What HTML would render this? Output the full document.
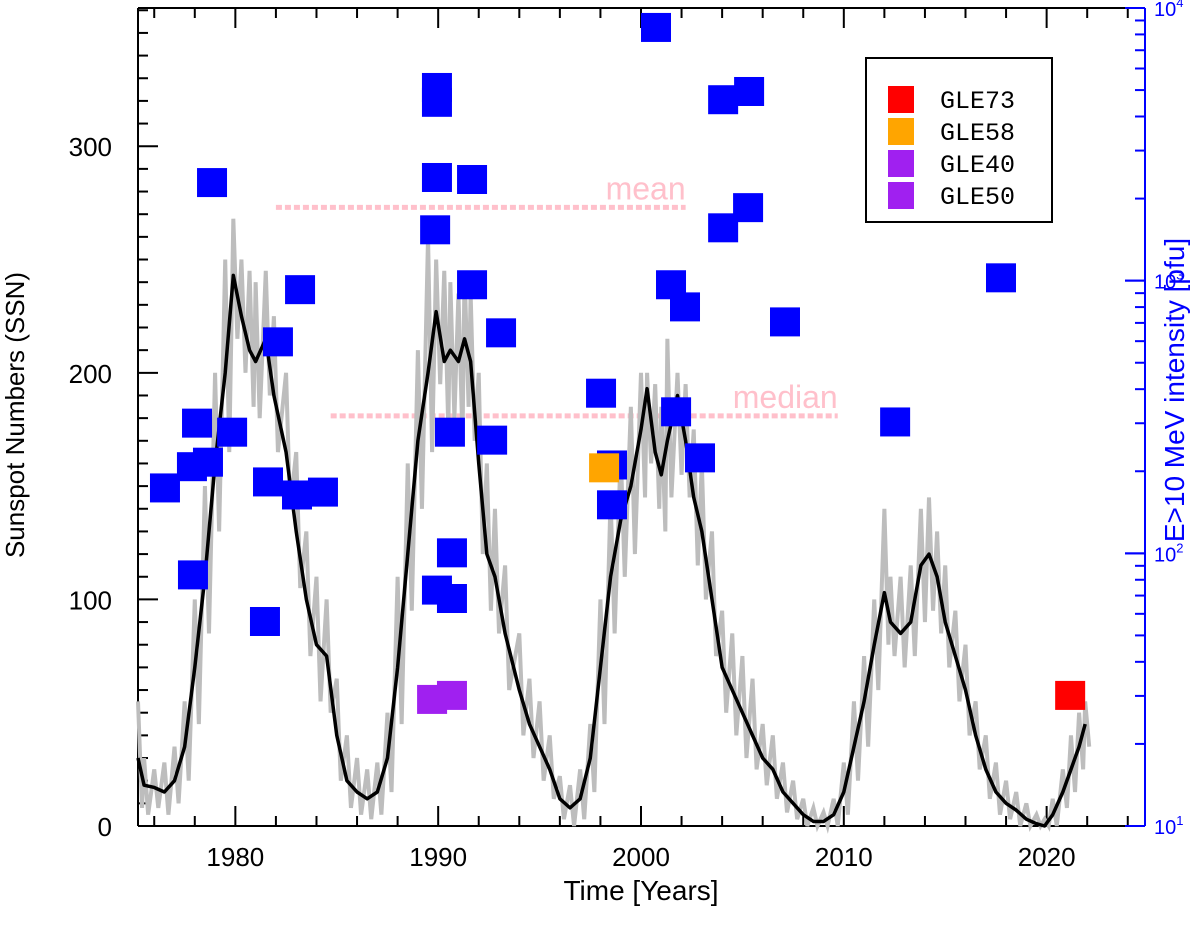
<!DOCTYPE html>
<html><head><meta charset="utf-8"><style>
html,body{margin:0;padding:0;background:#fff;}
svg{display:block;font-family:"Liberation Sans",sans-serif;}
</style></head><body>
<svg id="chart" width="1200" height="936" viewBox="0 0 1200 936">
<g id="axes"></g>
<g id="series"></g>
<g id="marks"></g>
<g id="legend">
  <rect x="866" y="58" width="186" height="164" fill="#fff" stroke="#000" stroke-width="2"/>
</g>
<text x="24" y="415" transform="rotate(-90 24 415)" text-anchor="middle" font-size="26" fill="#000">Sunspot Numbers (SSN)</text>
<text x="1184" y="390" transform="rotate(-90 1184 390)" text-anchor="middle" font-size="28" fill="#0000ff">E&gt;10 MeV intensity [pfu]</text>
<text x="641" y="900" text-anchor="middle" font-size="28" fill="#000">Time [Years]</text>
</svg>
<script>
// ---- data ----
const ssnYears = [1975.2,1975.5,1976,1976.5,1977,1977.5,1978,1978.5,1979,1979.5,1979.9,1980.3,1980.7,1981,1981.5,1981.9,1982.5,1983,1983.5,1984,1984.5,1985,1985.5,1986,1986.5,1987,1987.5,1988,1988.5,1989,1989.5,1989.9,1990.3,1990.6,1991,1991.3,1991.6,1992,1992.4,1992.8,1993.3,1994,1994.5,1995,1995.5,1996,1996.5,1997,1997.5,1998,1998.5,1999,1999.5,2000,2000.3,2000.7,2001,2001.3,2001.8,2002.2,2002.6,2003,2003.5,2004,2004.5,2005,2005.5,2006,2006.5,2007,2007.5,2008,2008.5,2009,2009.5,2010,2010.5,2011,2011.5,2012,2012.3,2012.8,2013.3,2013.8,2014.2,2014.6,2015,2015.5,2016,2016.5,2017,2017.5,2018,2018.5,2019,2019.5,2019.9,2020.3,2020.8,2021.2,2021.6,2021.9];
const ssnSmooth = [30,18,17,15,20,35,70,110,160,200,243,225,210,205,215,190,165,130,100,80,75,40,20,15,12,15,30,70,120,170,200,227,205,210,205,215,205,160,120,110,85,60,45,35,25,12,8,12,30,70,110,135,150,175,193,165,155,170,190,170,145,130,100,70,60,50,40,30,25,15,10,5,2,2,5,15,35,55,80,103,90,85,90,115,120,110,90,75,60,40,25,15,10,7,3,1,0,5,15,25,35,45];
const ssnMonthlyHi = [55,30,25,28,35,55,100,150,200,250,268,250,245,240,245,225,200,165,130,110,100,65,40,30,25,28,50,110,160,210,260,250,245,240,235,245,235,200,160,140,115,85,65,55,40,22,18,25,45,100,145,165,185,200,200,195,185,215,200,195,175,160,130,95,85,75,65,45,40,28,20,12,8,6,12,28,55,75,100,140,110,110,115,140,145,130,115,95,80,55,40,28,20,15,10,5,3,12,25,40,50,55];
const ssnMonthlyLo = [8,5,8,5,10,20,45,85,130,165,215,200,185,180,190,165,140,105,75,55,50,20,8,5,3,5,15,45,95,140,165,195,175,180,170,185,170,120,95,85,60,40,30,20,12,3,0,3,15,45,85,110,120,145,160,140,130,145,155,145,115,100,75,50,40,30,25,18,12,6,3,0,0,0,0,5,20,35,60,80,75,70,75,90,95,85,70,55,40,25,12,5,3,0,0,0,0,0,8,15,25,35];
const gleYears = [1976.53,1977.91,1978.11,1977.86,1978.65,1978.85,1979.84,1981.46,1981.61,1982.1,1983.04,1983.19,1984.32,1989.85,1989.94,1989.94,1989.94,1989.94,1990.68,1990.68,1990.58,1991.67,1991.67,1993.1,1992.66,1998.03,1998.57,1998.57,2000.74,2001.48,2002.17,2001.73,2002.91,2004.05,2005.33,2004.05,2005.28,2007.1,2012.53,2017.75];
const gleFlux = [173,83,299,207,215,2280,277,56,182,594,163,923,167,1530,2380,4490,5090,73,68,100,277,2340,962,641,259,385,210,150,8450,962,798,329,223,4590,4920,1556,1845,703,302,1020];
const specialNames = ["GLE58","GLE40","GLE50","GLE73"];
const specialYears = [1998.18,1989.7,1990.68,2021.16];
const specialFlux = [205,29,30,30];
const specialColors = ["#ffa500","#a020f0","#a020f0","#ff0000"];
const legendNames = ["GLE73","GLE58","GLE40","GLE50"];
const legendColors = ["#ff0000","#ffa500","#a020f0","#a020f0"];
const xTicks = [1980,1990,2000,2010,2020];
const yTicks = [0,100,200,300];
const logTicks = [1,2,3,4];
const meanValue = 273, meanRange=[1982,2002.2];
const medianValue = 181, medianRange=[1984.7,2009.7];

// ---- scales ----
const X0=138,X1=1145,Y0=826,Y1=8;
const xMin=1975.2,xMax=2024.85,yMax=361;
const x = v => X0+(v-xMin)/(xMax-xMin)*(X1-X0);
const y = v => Y0-v/yMax*(Y0-Y1);
const yl = f => Y0-(Math.log10(f)-1)/3*(Y0-Y1);
const NS="http://www.w3.org/2000/svg";
function mk(tag,attrs,parent){const e=document.createElementNS(NS,tag);for(const k in attrs)e.setAttribute(k,attrs[k]);parent.appendChild(e);return e;}
const axes=document.getElementById('axes'),series=document.getElementById('series'),marks=document.getElementById('marks'),legend=document.getElementById('legend');

// mean/median lines
[[meanValue,meanRange,'mean'],[medianValue,medianRange,'median']].forEach(([v,r,n])=>{
  let l=mk('line',{x1:x(r[0]),x2:x(r[1]),y1:y(v),y2:y(v),stroke:'#ffc0cb','stroke-width':5,'stroke-dasharray':'6,3'},series);
  
  
  let t=mk('text',{x:x(r[1]),y:y(v)-8,'text-anchor':'end','font-size':32,fill:'#ffc0cb'},series);
  t.textContent=n;
  
  
});

// gray monthly
let gp=[];
ssnYears.forEach((yr,i)=>{gp.push(x(yr)+','+y(ssnMonthlyHi[i]));gp.push(x(yr+0.2)+','+y(ssnMonthlyLo[i]));});
let g=mk('polyline',{points:gp.join(' '),fill:'none',stroke:'#bdbdbd','stroke-width':4},series);


let bp=ssnYears.map((yr,i)=>x(yr)+','+y(ssnSmooth[i])).join(' ');
let b=mk('polyline',{points:bp,fill:'none',stroke:'#000','stroke-width':3.5,'stroke-linejoin':'round'},series);



// squares
const S=30;
gleYears.forEach((yr,i)=>{
  let r=mk('rect',{x:x(yr)-S/2,y:yl(gleFlux[i])-S/2,width:S,height:S-1,fill:'#0000ff'},marks);
  
  
});
specialYears.forEach((yr,i)=>{
  let r=mk('rect',{x:x(yr)-S/2,y:yl(specialFlux[i])-S/2,width:S,height:S-1,fill:specialColors[i]},marks);
  
  
});

// axes frame
mk('line',{x1:X0,x2:X0,y1:Y1,y2:Y0,stroke:'#000','stroke-width':2},axes);
mk('line',{x1:X0,x2:X1,y1:Y0,y2:Y0,stroke:'#000','stroke-width':2},axes);
mk('line',{x1:X0,x2:X1,y1:Y1,y2:Y1,stroke:'#000','stroke-width':2},axes);
mk('line',{x1:X1,x2:X1,y1:Y1,y2:Y0,stroke:'#0000ff','stroke-width':2},axes);
// x ticks
for(let yr=1976;yr<=2024;yr+=2){
  const major=yr%10===0,len=major?20:10;
  mk('line',{x1:x(yr),x2:x(yr),y1:Y0,y2:Y0-len,stroke:'#000','stroke-width':2},axes);
  mk('line',{x1:x(yr),x2:x(yr),y1:Y1,y2:Y1+len,stroke:'#000','stroke-width':2},axes);
}
xTicks.forEach(v=>{
  let t=mk('text',{x:x(v),y:866,'text-anchor':'middle','font-size':26,fill:'#000'},axes);
  t.textContent=v;
  
  
});
// left y ticks
for(let v=0;v<=360;v+=10){
  const len=v%100===0?20:10;
  mk('line',{x1:X0,x2:X0+len,y1:y(v),y2:y(v),stroke:'#000','stroke-width':2},axes);
}
yTicks.forEach(v=>{
  let t=mk('text',{x:112,y:y(v)+10,'text-anchor':'end','font-size':26,fill:'#000'},axes);
  t.textContent=v;
  
  
});
// right log ticks
for(let d=1;d<4;d++){for(let m=1;m<=10;m++){
  const f=m*Math.pow(10,d),len=(m===1||m===10)?20:10;
  mk('line',{x1:X1,x2:X1-len,y1:yl(f),y2:yl(f),stroke:'#0000ff','stroke-width':2},axes);
}}
logTicks.forEach(p=>{
  let t=mk('text',{x:1154,y:yl(Math.pow(10,p))+8,'font-size':20,fill:'#0000ff'},axes);
  t.textContent='10';
  let s=mk('tspan',{dy:-9,'font-size':13},t);
  s.textContent=p;
  
  
});
// legend
legendNames.forEach((n,i)=>{
  const yy=86+i*32;
  let r=mk('rect',{x:888,y:yy,width:26,height:27,fill:legendColors[i]},legend);
  
  
  let t=mk('text',{x:940,y:yy+22,'font-size':25,fill:'#000','font-family':'Liberation Mono, monospace'},legend);
  t.textContent=n;
  
  
});
</script>
</body></html>
